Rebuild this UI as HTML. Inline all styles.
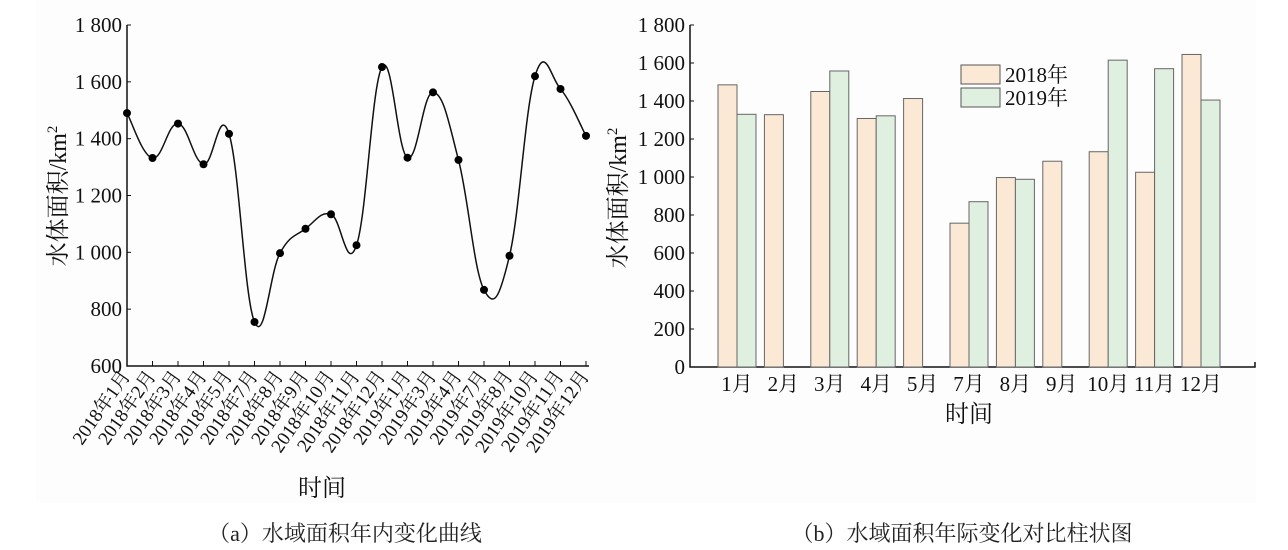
<!DOCTYPE html>
<html><head><meta charset="utf-8"><style>
body{margin:0;background:#fff;}
svg{display:block;font-family:"Liberation Serif","Noto Serif CJK SC","Noto Sans CJK SC",serif;}
</style></head><body>
<svg width="1288" height="550" viewBox="0 0 1288 550">
<rect x="36" y="0" width="1220" height="503" fill="#fdfdfd"/>
<g id="left"></g>
<g id="right"></g>
<text x="345" y="541" font-size="22" text-anchor="middle" fill="#222">（a）水域面积年内变化曲线</text>
<text x="962" y="541" font-size="22" text-anchor="middle" fill="#222">（b）水域面积年际变化对比柱状图</text>
</svg>
<script>
const lineCategories=["2018年1月","2018年2月","2018年3月","2018年4月","2018年5月","2018年7月","2018年8月","2018年9月","2018年10月","2018年11月","2018年12月","2019年1月","2019年3月","2019年4月","2019年7月","2019年8月","2019年10月","2019年11月","2019年12月"];
const lineValues=[1490,1332,1453,1310,1417,755,997,1083,1134,1025,1652,1333,1563,1325,868,988,1620,1575,1410];
const lineTicks=[600,800,1000,1200,1400,1600,1800];
const barCategories=["1月","2月","3月","4月","5月","7月","8月","9月","10月","11月","12月"];
const bars2018=[1485,1328,1450,1308,1413,757,997,1083,1133,1025,1645];
const bars2019=[1330,null,1558,1322,null,870,988,null,1615,1570,1405];
const barTicks=[0,200,400,600,800,1000,1200,1400,1600,1800];
const NS="http://www.w3.org/2000/svg";
function mk(p,t,a,txt){const e=document.createElementNS(NS,t);for(const k in a)e.setAttribute(k,a[k]);if(txt!==undefined)e.textContent=txt;p.appendChild(e);return e;}
function fmt(v){const s=String(v);return s.length>3?s.slice(0,s.length-3)+" "+s.slice(-3):s;}
// left chart
(function(){
const g=document.getElementById('left');
const x0=127,step=25.5,yb=366,yt=25;
const X=i=>x0+i*step, Y=v=>yb-(v-600)/1200*(yb-yt);
const xEnd=X(lineCategories.length-1)+3;
let ax=mk(g,'path',{d:`M${x0} ${yt}V${yb}H${xEnd}`,stroke:'#111',fill:'none','stroke-width':1.5});


lineTicks.forEach(v=>{
 let t=mk(g,'text',{x:x0-5,y:Y(v)+7,'font-size':21,'text-anchor':'end',fill:'#111'},fmt(v));
 
 
 let l=mk(g,'line',{x1:x0,x2:x0+4,y1:Y(v),y2:Y(v),stroke:'#111'});
 
 
});
lineCategories.forEach((c,i)=>{
 let l=mk(g,'line',{x1:X(i),x2:X(i),y1:yb,y2:yb-5,stroke:'#111'});
 
 
 let t=mk(g,'text',{x:X(i)+4,y:yb+10,'font-size':19,'text-anchor':'end',fill:'#111',transform:`rotate(-55 ${X(i)+4} ${yb+10})`},c);
 
 
});
const pts=lineValues.map((v,i)=>[X(i),Y(v)]);
let d=`M${pts[0][0]} ${pts[0][1]}`;
for(let i=0;i<pts.length-1;i++){
 const p0=pts[Math.max(0,i-1)],p1=pts[i],p2=pts[i+1],p3=pts[Math.min(pts.length-1,i+2)];
 const k=0.2;
 d+=` C${p1[0]+(p2[0]-p0[0])*k} ${p1[1]+(p2[1]-p0[1])*k} ${p2[0]-(p3[0]-p1[0])*k} ${p2[1]-(p3[1]-p1[1])*k} ${p2[0]} ${p2[1]}`;
}
let ln=mk(g,'path',{d,stroke:'#111',fill:'none','stroke-width':1.5});


pts.forEach(p=>{let c=mk(g,'circle',{cx:p[0],cy:p[1],r:4,fill:'#000'});
 
 });
let yt1=mk(g,'text',{x:66,y:196,'font-size':24,'text-anchor':'middle',fill:'#111',transform:'rotate(-90 66 196)'});
yt1.innerHTML='水体面积/km<tspan font-size="15" dy="-9">2</tspan>';


let xt=mk(g,'text',{x:322,y:496,'font-size':24,'text-anchor':'middle',fill:'#111'},'时间');


})();
// right chart
(function(){
const g=document.getElementById('right');
const x0=690,yb=367,yt=25,xEnd=1255,bw=19;
const C=i=>737+i*46.4, Y=v=>yb-v/1800*(yb-yt);
let ax=mk(g,'path',{d:`M${x0} ${yt}V${yb}H${xEnd}V${yb-5}`,stroke:'#111',fill:'none','stroke-width':1.5});


barTicks.forEach(v=>{
 let t=mk(g,'text',{x:x0-5,y:Y(v)+7,'font-size':21,'text-anchor':'end',fill:'#111'},fmt(v));
 
 
 let l=mk(g,'line',{x1:x0,x2:x0+4,y1:Y(v),y2:Y(v),stroke:'#111'});
 
 
});
barCategories.forEach((c,i)=>{
 const v1=bars2018[i],v2=bars2019[i];
 if(v1!=null){let r=mk(g,'rect',{x:C(i)-bw,y:Y(v1),width:bw,height:yb-Y(v1),fill:'#fbe9d6',stroke:'#666','stroke-width':1});
  
  }
 if(v2!=null){let r=mk(g,'rect',{x:C(i),y:Y(v2),width:bw,height:yb-Y(v2),fill:'#dff0e1',stroke:'#666','stroke-width':1});
  
  }
 let t=mk(g,'text',{x:C(i),y:yb+24,'font-size':21,'text-anchor':'middle',fill:'#111'},c);
 
 
});
let yt1=mk(g,'text',{x:626,y:198,'font-size':24,'text-anchor':'middle',fill:'#111',transform:'rotate(-90 626 198)'});
yt1.innerHTML='水体面积/km<tspan font-size="15" dy="-9">2</tspan>';


let xt=mk(g,'text',{x:969,y:422,'font-size':24,'text-anchor':'middle',fill:'#111'},'时间');


[["2018年","#fbe9d6",65],["2019年","#dff0e1",88]].forEach(([lab,col,y])=>{
 let r=mk(g,'rect',{x:961,y:y,width:39,height:19,fill:col,stroke:'#555'});
 
 
 let t=mk(g,'text',{x:1005,y:y+17,'font-size':21,fill:'#111'},lab);
 
 
});
})();
</script>
</body></html>
